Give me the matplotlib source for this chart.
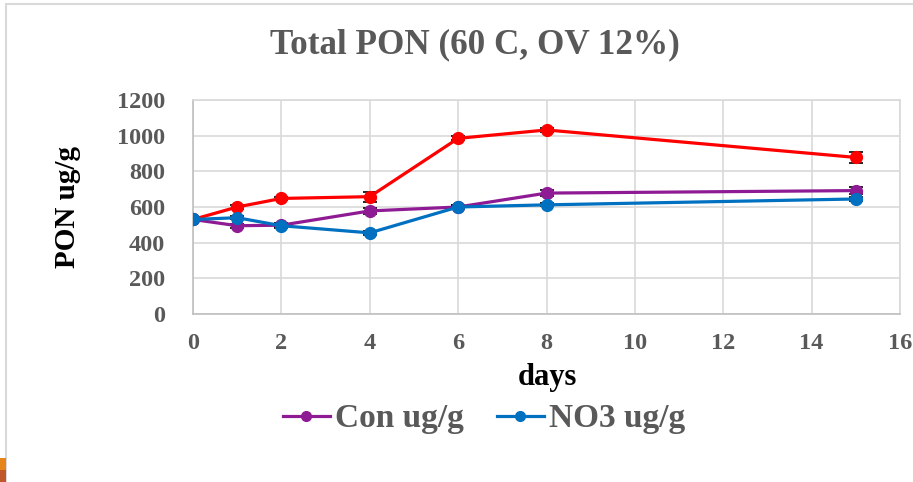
import matplotlib
matplotlib.use("Agg")
import matplotlib.pyplot as plt
from matplotlib.patches import Rectangle
from matplotlib.lines import Line2D

days = [0, 1, 2, 4, 6, 8, 15]
red_vals = [530, 600, 648, 658, 985, 1032, 878]
red_err = [10, 12, 10, 28, 12, 10, 30]
con_vals = [530, 495, 498, 578, 600, 678, 692]
con_err = [8, 12, 10, 18, 10, 15, 18]
no3_vals = [530, 540, 495, 455, 600, 612, 645]
no3_err = [8, 10, 12, 10, 10, 8, 10]

title = "Total PON (60 C, OV 12%)"
xticks = [0, 2, 4, 6, 8, 10, 12, 14, 16]
yticks = [0, 200, 400, 600, 800, 1000, 1200]

grey = "#595959"
red, purple, blue = "#FF0000", "#8E1A94", "#0070C0"
plt.rcParams['font.family'] = ['Liberation Serif', 'DejaVu Serif']
plt.rcParams['font.weight'] = 'bold'

fig = plt.figure(figsize=(9.13, 4.82), dpi=100)
W, H = 913, 482
ax = fig.add_axes([193 / W, 1 - 314 / H, (900 - 193) / W, (314 - 100) / H])

def series(v, e, color):
    ax.errorbar(days, v, yerr=e, color=color, ecolor="black", elinewidth=1.2,
                capsize=5, capthick=1.2, lw=2.3, marker="o", ms=8.5, zorder=3)

series(red_vals, red_err, red)
series(con_vals, con_err, purple)
series(no3_vals, no3_err, blue)

ax.set_xlim(0, 16)
ax.set_ylim(0, 1200)
ax.set_xticks(xticks)
ax.set_yticks(yticks)
ax.grid(True, color="#D9D9D9", lw=1.2)
ax.set_axisbelow(True)
for s in ax.spines.values():
    s.set_color("#D9D9D9")
    s.set_linewidth(1.2)
ax.spines['bottom'].set_color("#BFBFBF")
ax.spines['left'].set_color("#BFBFBF")
ax.tick_params(axis='y', length=0, labelsize=17.5, labelcolor=grey, pad=20)
ax.tick_params(axis='x', length=0, labelsize=17.5, labelcolor=grey, pad=14)
for lab in ax.get_xticklabels() + ax.get_yticklabels():
    lab.set_fontweight('bold')

fig.text(475 / W, 1 - 45 / H, title, ha="center", va="center",
         fontsize=25.3, color=grey, fontweight="bold")
fig.text(67 / W, 1 - 207 / H, "PON ug/g", ha="center", va="center",
         rotation=90, fontsize=21, color="black", fontweight="bold")
fig.text(547 / W, 1 - 378 / H, "days", ha="center", va="center",
         fontsize=22, color="black", fontweight="bold")

handles = [Line2D([], [], color=purple, lw=2.3, marker="o", ms=7),
           Line2D([], [], color=blue, lw=2.3, marker="o", ms=7)]
leg = fig.legend(handles, ["Con ug/g", "NO3 ug/g"], loc="center",
                 bbox_to_anchor=(484 / W, 1 - 419 / H), ncol=2,
                 frameon=False, handlelength=1.4,
                 columnspacing=1.0, handletextpad=0.15,
                 prop={'weight': 'bold', 'size': 24})
for t in leg.get_texts():
    t.set_color(grey)

# chart frame and slide artefacts
fig.patches.append(Rectangle((6 / W, -0.1), 1.5, 1 - 4 / H + 0.1, transform=fig.transFigure,
                             fill=False, edgecolor="#D9D9D9", lw=1.5))
fig.patches.append(Rectangle((0, 1 - 470 / H), 6 / W, 12 / H, transform=fig.transFigure,
                             facecolor="#E6861A", edgecolor="none"))
fig.patches.append(Rectangle((0, 0), 6 / W, 12 / H, transform=fig.transFigure,
                             facecolor="#C0562A", edgecolor="none"))

fig.savefig("out.png", dpi=100)
